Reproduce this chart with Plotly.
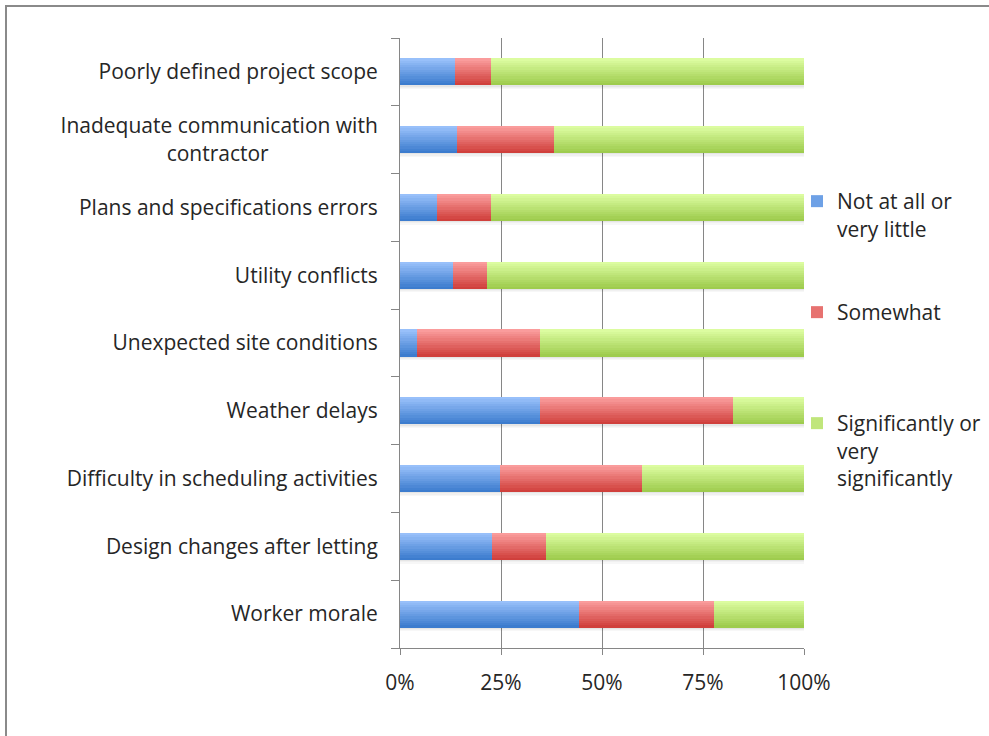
import plotly.graph_objects as go

# Survey items, listed top to bottom as they appear on the chart
categories = [
    "Poorly defined project scope",
    "Inadequate communication with<br>contractor" + "&nbsp;" * 20,
    "Plans and specifications errors",
    "Utility conflicts",
    "Unexpected site conditions",
    "Weather delays",
    "Difficulty in scheduling activities",
    "Design changes after letting",
    "Worker morale",
]

# Share of respondents (%) per response level
not_at_all = [13.5, 14.0, 9.2, 13.1, 4.2, 34.7, 24.8, 22.8, 44.4]
somewhat = [9.1, 24.1, 13.3, 8.4, 30.5, 47.8, 35.2, 13.3, 33.3]
significantly = [round(100 - a - b, 1) for a, b in zip(not_at_all, somewhat)]

series_names = ["Not at all or<br>very little", "Somewhat", "Significantly or<br>very<br>significantly"]
series_values = [not_at_all, somewhat, significantly]

x_ticks = [0, 25, 50, 75, 100]
x_tick_labels = ["0%", "25%", "50%", "75%", "100%"]

# top colour -> bottom colour of each bar's vertical gradient
gradients = [
    ((152, 192, 250), (60, 124, 206)),
    ((250, 156, 156), (208, 64, 60)),
    ((220, 252, 160), (158, 204, 78)),
]
legend_ids = ["legend", "legend2", "legend3"]

# y axis runs bottom-up, so reverse the category order
y_order = categories[::-1]

W, H = 989, 736
ML, MR, MT, MB = 400, 185, 38, 88
PW, PH = W - ML - MR, H - MT - MB

BAR_W = 0.40
N_STRIPS = 12
strip = BAR_W / N_STRIPS


def mix(c0, c1, t):
    return "rgb({},{},{})".format(*[round(a + (b - a) * t) for a, b in zip(c0, c1)])


fig = go.Figure()

# soft shadow under each full bar
totals = [a + b + c for a, b, c in zip(*series_values)]
for k, alpha in enumerate([0.10, 0.06, 0.03]):
    fig.add_trace(go.Bar(
        y=categories, x=totals, base=[0] * len(categories), orientation="h",
        width=0.018, offset=-BAR_W / 2 - 0.018 * (k + 1),
        marker=dict(color=f"rgba(0,0,0,{alpha})", line=dict(width=0)),
        showlegend=False, hoverinfo="skip",
    ))

bases = [0.0] * len(categories)
for s, (name, vals) in enumerate(zip(series_names, series_values)):
    top, bottom = gradients[s]
    for i in range(N_STRIPS):
        t = 1 - i / (N_STRIPS - 1)  # i=0 is the lowest strip (darkest)
        fig.add_trace(go.Bar(
            y=categories, x=vals, base=bases[:], orientation="h",
            width=strip * 1.02, offset=-BAR_W / 2 + i * strip,
            marker=dict(color=mix(top, bottom, t), line=dict(width=0)),
            name=name,
            legend=legend_ids[s],
            showlegend=(i == N_STRIPS // 2),
            hovertemplate="%{y}: %{x:.1f}%<extra></extra>",
        ))
    bases = [b + v for b, v in zip(bases, vals)]

axis_grey = "#868686"
text_font = dict(family="Open Sans, sans-serif", size=21, color="#262626")

legend_common = dict(
    xanchor="left", yanchor="top", font=text_font, itemwidth=30,
    bgcolor="rgba(0,0,0,0)", valign="top", itemclick=False,
)


def px_to_paper_x(px):
    return (px - ML) / PW


def px_to_paper_y(py):
    return (H - MB - py) / PH


fig.update_layout(
    width=W, height=H,
    margin=dict(l=ML, r=MR, t=MT, b=MB, autoexpand=False),
    paper_bgcolor="white", plot_bgcolor="white",
    barmode="overlay", bargap=0,
    font=text_font,
    legend=dict(x=px_to_paper_x(797), y=px_to_paper_y(181), **legend_common),
    legend2=dict(x=px_to_paper_x(797), y=px_to_paper_y(292), **legend_common),
    legend3=dict(x=px_to_paper_x(797), y=px_to_paper_y(403), **legend_common),
    xaxis=dict(
        range=[0, 100], tickvals=x_ticks, ticktext=x_tick_labels,
        showgrid=True, gridcolor=axis_grey, gridwidth=1,
        showline=True, linecolor=axis_grey, linewidth=1,
        ticks="outside", ticklen=6, tickcolor=axis_grey,
        ticklabelstandoff=10, zeroline=False, fixedrange=True,
    ),
    yaxis=dict(
        categoryorder="array", categoryarray=y_order,
        range=[-0.5, len(categories) - 0.5],
        showgrid=False, showline=True, linecolor=axis_grey, linewidth=1,
        ticks="outside", tickson="boundaries", ticklen=8, tickcolor=axis_grey,
        ticklabelstandoff=17, zeroline=False, fixedrange=True,
    ),
    shapes=[dict(
        type="rect", xref="paper", yref="paper", layer="above",
        x0=px_to_paper_x(6), x1=px_to_paper_x(W + 10),
        y0=px_to_paper_y(H + 10), y1=px_to_paper_y(6),
        line=dict(color="#8a8a8a", width=2), fillcolor="rgba(0,0,0,0)",
    )],
)

fig.write_html("out.html")
